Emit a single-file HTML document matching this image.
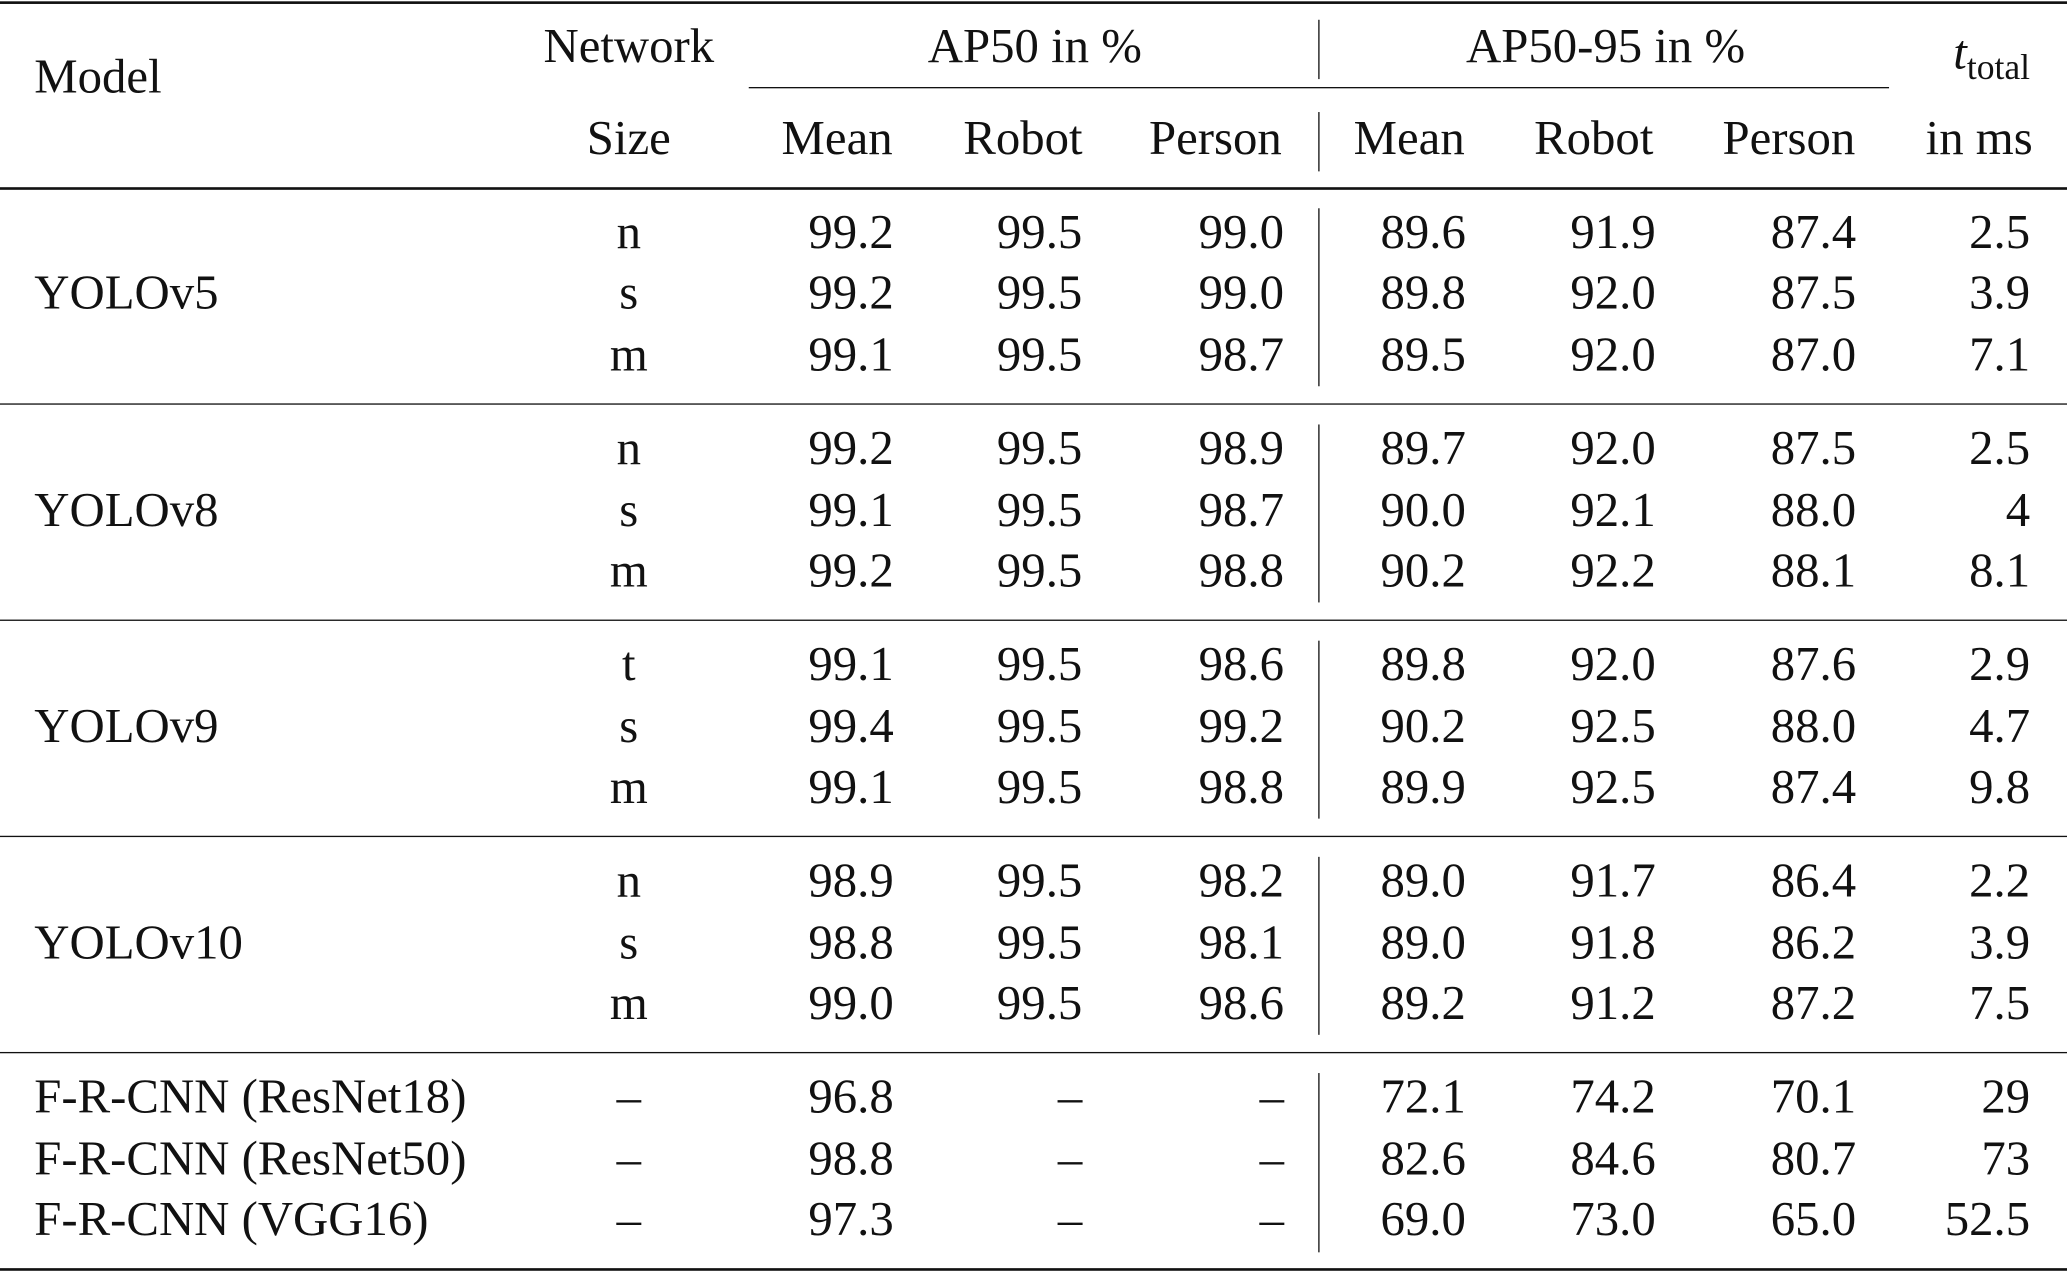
<!DOCTYPE html>
<html><head><meta charset="utf-8"><style>
html,body{margin:0;padding:0;background:#fff;}
body{width:2067px;height:1272px;overflow:hidden;position:relative;}
#w{position:absolute;left:0;top:0;width:1568px;height:965px;transform:scale(1.31824);transform-origin:0 0;font-family:"Liberation Serif",serif;font-size:37px;color:#111;}
#w div{position:absolute;line-height:40px;white-space:nowrap;margin-top:1px;}
#w div.h,#w div.v{margin-top:0;}
.h{height:0;border-top:2px solid #111;left:0;width:1568px;}
.v{width:0;border-left:1.3px solid #111;left:1000px;}
.sz{left:427px;width:100px;text-align:center;}
.c1{right:890px}.c2{right:747px}.c3{right:594px}.c4{right:456px}.c5{right:312px}.c6{right:160px}.c7{right:28px}
.m{left:26px}
</style></head><body><div id="w">
<div class="h" style="top:1px"></div>
<div class="h" style="top:142px"></div>
<div class="h" style="top:306px;border-top-width:1.6px"></div>
<div class="h" style="top:470px;border-top-width:1.6px"></div>
<div class="h" style="top:634px;border-top-width:1.6px"></div>
<div class="h" style="top:798px;border-top-width:1.6px"></div>
<div class="h" style="top:962px"></div>
<div class="h" style="top:66px;left:568px;width:865px;border-top-width:1.6px"></div>
<div class="v" style="top:15px;height:45px"></div>
<div class="v" style="top:85px;height:45px"></div>
<div class="v" style="top:158px;height:135px"></div>
<div class="v" style="top:322px;height:135px"></div>
<div class="v" style="top:486px;height:135px"></div>
<div class="v" style="top:650px;height:135px"></div>
<div class="v" style="top:814px;height:136px"></div>

<div class="m" style="top:38px">Model</div>
<div style="top:15px;left:377px;width:200px;text-align:center">Network</div>
<div style="top:15px;left:635px;width:300px;text-align:center">AP50 in %</div>
<div style="top:15px;left:1068px;width:300px;text-align:center">AP50-95 in %</div>
<div style="top:20px;right:28px"><i>t</i><span style="font-size:27px;position:relative;top:8px">total</span></div>
<div class="sz" style="top:85px">Size</div>
<div style="top:85px;left:535px;width:200px;text-align:center">Mean</div>
<div style="top:85px;left:676px;width:200px;text-align:center">Robot</div>
<div style="top:85px;left:822px;width:200px;text-align:center">Person</div>
<div style="top:85px;left:969px;width:200px;text-align:center">Mean</div>
<div style="top:85px;left:1109px;width:200px;text-align:center">Robot</div>
<div style="top:85px;left:1257px;width:200px;text-align:center">Person</div>
<div style="top:85px;right:26px">in ms</div>

<div class="m" style="top:202px">YOLOv5</div>
<div class="sz" style="top:156px">n</div><div class="c1" style="top:156px">99.2</div><div class="c2" style="top:156px">99.5</div><div class="c3" style="top:156px">99.0</div><div class="c4" style="top:156px">89.6</div><div class="c5" style="top:156px">91.9</div><div class="c6" style="top:156px">87.4</div><div class="c7" style="top:156px">2.5</div>
<div class="sz" style="top:202px">s</div><div class="c1" style="top:202px">99.2</div><div class="c2" style="top:202px">99.5</div><div class="c3" style="top:202px">99.0</div><div class="c4" style="top:202px">89.8</div><div class="c5" style="top:202px">92.0</div><div class="c6" style="top:202px">87.5</div><div class="c7" style="top:202px">3.9</div>
<div class="sz" style="top:249px">m</div><div class="c1" style="top:249px">99.1</div><div class="c2" style="top:249px">99.5</div><div class="c3" style="top:249px">98.7</div><div class="c4" style="top:249px">89.5</div><div class="c5" style="top:249px">92.0</div><div class="c6" style="top:249px">87.0</div><div class="c7" style="top:249px">7.1</div>

<div class="m" style="top:367px">YOLOv8</div>
<div class="sz" style="top:320px">n</div><div class="c1" style="top:320px">99.2</div><div class="c2" style="top:320px">99.5</div><div class="c3" style="top:320px">98.9</div><div class="c4" style="top:320px">89.7</div><div class="c5" style="top:320px">92.0</div><div class="c6" style="top:320px">87.5</div><div class="c7" style="top:320px">2.5</div>
<div class="sz" style="top:367px">s</div><div class="c1" style="top:367px">99.1</div><div class="c2" style="top:367px">99.5</div><div class="c3" style="top:367px">98.7</div><div class="c4" style="top:367px">90.0</div><div class="c5" style="top:367px">92.1</div><div class="c6" style="top:367px">88.0</div><div class="c7" style="top:367px">4</div>
<div class="sz" style="top:413px">m</div><div class="c1" style="top:413px">99.2</div><div class="c2" style="top:413px">99.5</div><div class="c3" style="top:413px">98.8</div><div class="c4" style="top:413px">90.2</div><div class="c5" style="top:413px">92.2</div><div class="c6" style="top:413px">88.1</div><div class="c7" style="top:413px">8.1</div>

<div class="m" style="top:531px">YOLOv9</div>
<div class="sz" style="top:484px">t</div><div class="c1" style="top:484px">99.1</div><div class="c2" style="top:484px">99.5</div><div class="c3" style="top:484px">98.6</div><div class="c4" style="top:484px">89.8</div><div class="c5" style="top:484px">92.0</div><div class="c6" style="top:484px">87.6</div><div class="c7" style="top:484px">2.9</div>
<div class="sz" style="top:531px">s</div><div class="c1" style="top:531px">99.4</div><div class="c2" style="top:531px">99.5</div><div class="c3" style="top:531px">99.2</div><div class="c4" style="top:531px">90.2</div><div class="c5" style="top:531px">92.5</div><div class="c6" style="top:531px">88.0</div><div class="c7" style="top:531px">4.7</div>
<div class="sz" style="top:577px">m</div><div class="c1" style="top:577px">99.1</div><div class="c2" style="top:577px">99.5</div><div class="c3" style="top:577px">98.8</div><div class="c4" style="top:577px">89.9</div><div class="c5" style="top:577px">92.5</div><div class="c6" style="top:577px">87.4</div><div class="c7" style="top:577px">9.8</div>

<div class="m" style="top:695px">YOLOv10</div>
<div class="sz" style="top:648px">n</div><div class="c1" style="top:648px">98.9</div><div class="c2" style="top:648px">99.5</div><div class="c3" style="top:648px">98.2</div><div class="c4" style="top:648px">89.0</div><div class="c5" style="top:648px">91.7</div><div class="c6" style="top:648px">86.4</div><div class="c7" style="top:648px">2.2</div>
<div class="sz" style="top:695px">s</div><div class="c1" style="top:695px">98.8</div><div class="c2" style="top:695px">99.5</div><div class="c3" style="top:695px">98.1</div><div class="c4" style="top:695px">89.0</div><div class="c5" style="top:695px">91.8</div><div class="c6" style="top:695px">86.2</div><div class="c7" style="top:695px">3.9</div>
<div class="sz" style="top:741px">m</div><div class="c1" style="top:741px">99.0</div><div class="c2" style="top:741px">99.5</div><div class="c3" style="top:741px">98.6</div><div class="c4" style="top:741px">89.2</div><div class="c5" style="top:741px">91.2</div><div class="c6" style="top:741px">87.2</div><div class="c7" style="top:741px">7.5</div>

<div class="m" style="top:812px">F-R-CNN (ResNet18)</div><div class="sz" style="top:812px">–</div><div class="c1" style="top:812px">96.8</div><div class="c2" style="top:812px">–</div><div class="c3" style="top:812px">–</div><div class="c4" style="top:812px">72.1</div><div class="c5" style="top:812px">74.2</div><div class="c6" style="top:812px">70.1</div><div class="c7" style="top:812px">29</div>
<div class="m" style="top:859px">F-R-CNN (ResNet50)</div><div class="sz" style="top:859px">–</div><div class="c1" style="top:859px">98.8</div><div class="c2" style="top:859px">–</div><div class="c3" style="top:859px">–</div><div class="c4" style="top:859px">82.6</div><div class="c5" style="top:859px">84.6</div><div class="c6" style="top:859px">80.7</div><div class="c7" style="top:859px">73</div>
<div class="m" style="top:905px">F-R-CNN (VGG16)</div><div class="sz" style="top:905px">–</div><div class="c1" style="top:905px">97.3</div><div class="c2" style="top:905px">–</div><div class="c3" style="top:905px">–</div><div class="c4" style="top:905px">69.0</div><div class="c5" style="top:905px">73.0</div><div class="c6" style="top:905px">65.0</div><div class="c7" style="top:905px">52.5</div>
</div></body></html>
